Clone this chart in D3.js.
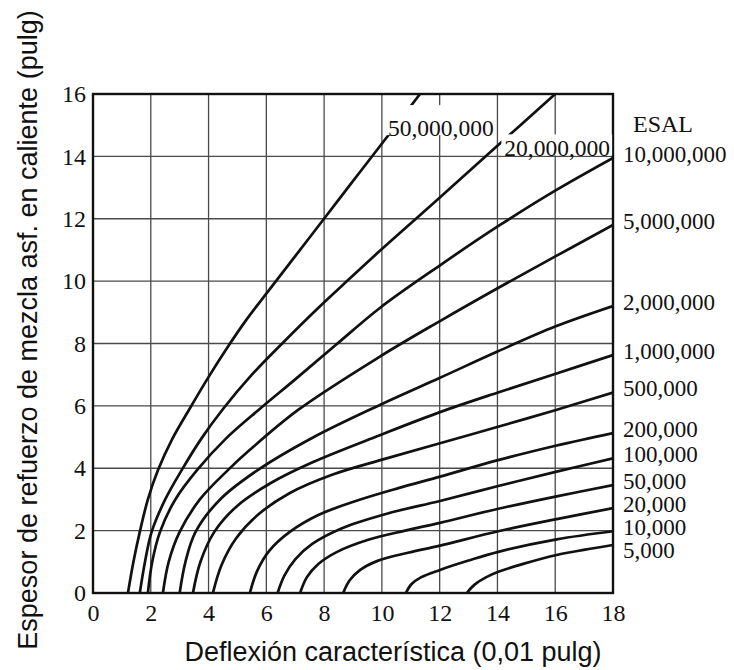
<!DOCTYPE html>
<html>
<head>
<meta charset="utf-8">
<script src="https://cdn.jsdelivr.net/npm/d3@7"></script>
<style>
  body { margin: 0; background: #fff; }
</style>
</head>
<body>
<div class="chart"></div>
<script>
// values: [deflexion (0.01 in), espesor (in)]
var xTicks = [0, 2, 4, 6, 8, 10, 12, 14, 16, 18];
var yTicks = [0, 2, 4, 6, 8, 10, 12, 14, 16];

var curve50M  = [[1.21,0],[1.40,1.0],[1.62,1.96],[1.90,3.0],[2.25,3.94],[2.75,4.95],[3.34,5.9],[3.95,6.85],[4.6,7.8],[5.3,8.75],[6.1,9.72],[7.0,10.8],[8.03,12.04],[9.05,13.27],[10.11,14.54],[11.32,16]];
var curve20M  = [[1.62,0],[1.80,1.0],[2.03,1.96],[2.50,3.0],[3.07,3.94],[3.75,4.95],[4.50,5.90],[5.5,7.0],[6.6,8.05],[7.75,9.1],[8.85,10.05],[9.93,10.97],[11.91,12.6],[13.95,14.3],[16,16]];
var curve10M  = [[1.90,0],[2.05,1.0],[2.32,1.96],[2.85,3.0],[3.6,3.94],[4.6,4.95],[5.77,5.9],[7.0,6.85],[8.4,7.95],[9.93,9.14],[12.0,10.5],[14.09,11.8],[16.0,12.9],[18,13.95]];
var curve5M   = [[2.42,0],[2.62,1.0],[3.0,1.96],[3.7,3.0],[4.67,3.94],[5.43,4.59],[7.1,5.87],[9.93,7.58],[12.01,8.72],[14.02,9.78],[16.02,10.8],[18,11.8]];
var curve2M   = [[3.0,0],[3.2,1.0],[3.55,1.96],[4.4,3.0],[5.7,3.94],[7.6,4.98],[9.93,6.03],[12.01,6.9],[14.02,7.75],[16.02,8.55],[18,9.2]];
var curve1M   = [[3.46,0],[3.72,1.0],[4.2,1.96],[5.0,2.8],[6.2,3.55],[7.62,4.2],[9.93,5.06],[12.01,5.8],[14.02,6.43],[16.02,7.03],[18,7.63]];
var curve500K = [[4.15,0],[4.45,0.9],[4.95,1.75],[5.7,2.5],[6.8,3.2],[8.3,3.8],[10.1,4.3],[12.01,4.8],[14.02,5.33],[16.0,5.86],[18,6.43]];
var curve200K = [[5.43,0],[5.68,0.7],[6.1,1.35],[6.8,1.95],[7.8,2.5],[9.2,2.98],[10.6,3.37],[12.01,3.73],[14.02,4.26],[16.05,4.73],[18,5.13]];
var curve100K = [[6.39,0],[6.62,0.55],[7.0,1.08],[7.6,1.58],[8.6,2.07],[10.2,2.55],[12.01,2.95],[14.03,3.43],[16.05,3.89],[18,4.32]];
var curve50K  = [[7.17,0],[7.4,0.5],[7.8,0.93],[8.45,1.32],[9.5,1.7],[10.8,2.0],[12.01,2.25],[14.03,2.7],[16.05,3.1],[18,3.46]];
var curve20K  = [[8.66,0],[8.88,0.4],[9.25,0.74],[9.85,1.03],[10.9,1.29],[12.01,1.52],[14.03,1.98],[16.05,2.37],[18,2.72]];
var curve10K  = [[10.83,0],[11.02,0.28],[11.35,0.5],[12.01,0.74],[13.0,1.04],[14.03,1.32],[16.05,1.72],[18,1.98]];
var curve5K   = [[12.94,0],[13.2,0.26],[13.6,0.5],[14.03,0.68],[14.95,0.95],[16.05,1.22],[17.03,1.39],[18,1.54]];

var esalLabels = ["50,000,000","20,000,000","10,000,000","5,000,000","2,000,000","1,000,000",
                  "500,000","200,000","100,000","50,000","20,000","10,000","5,000"];
var curves = [curve50M, curve20M, curve10M, curve5M, curve2M, curve1M, curve500K,
              curve200K, curve100K, curve50K, curve20K, curve10K, curve5K];

var serif = "'Liberation Serif','Times New Roman',serif";
var sans = "'Liberation Sans',Arial,sans-serif";

// set the dimensions and margins of the graph
var margin = {top: 94, right: 121, bottom: 77, left: 93},
    width = 734 - margin.left - margin.right,
    height = 670 - margin.top - margin.bottom;

var root = d3.select(".chart")
  .append("svg")
    .attr("width", 734)
    .attr("height", 670);

var svg = root.append("g")
    .attr("transform", "translate(" + margin.left + "," + margin.top + ")");

var x = d3.scaleLinear().domain([0, 18]).range([0, width]);
var y = d3.scaleLinear().domain([0, 16]).range([height, 0]);

// grid
svg.append("g").selectAll("line")
  .data(xTicks.slice(1, -1))
  .enter().append("line")
    .attr("x1", d => x(d)).attr("x2", d => x(d))
    .attr("y1", 0).attr("y2", height)
    .attr("stroke", "#4a4a4a").attr("stroke-width", 1.3);

svg.append("g").selectAll("line")
  .data(yTicks.slice(1, -1))
  .enter().append("line")
    .attr("x1", 0).attr("x2", width)
    .attr("y1", d => y(d)).attr("y2", d => y(d))
    .attr("stroke", "#4a4a4a").attr("stroke-width", 1.3);

// axes (labels only)
var xAx = svg.append("g")
    .attr("transform", "translate(0," + height + ")")
    .call(d3.axisBottom(x).tickValues(xTicks).tickSize(0).tickPadding(11));
var yAx = svg.append("g")
    .call(d3.axisLeft(y).tickValues(yTicks).tickSize(0).tickPadding(7));

[xAx, yAx].forEach(function(a) {
  a.select(".domain").remove();
  a.attr("font-family", serif).attr("font-size", 24);
  a.selectAll("text").attr("fill", "#111");
});

// curves
svg.append("clipPath").attr("id", "plot-clip")
  .append("rect").attr("width", width).attr("height", height);

var line = d3.line()
    .x(d => x(d[0]))
    .y(d => y(d[1]))
    .curve(d3.curveCatmullRom.alpha(0.5));

svg.append("g").attr("clip-path", "url(#plot-clip)")
  .selectAll("path")
  .data(curves)
  .enter().append("path")
    .attr("d", line)
    .attr("fill", "none")
    .attr("stroke", "#111")
    .attr("stroke-width", 2.7)
    .attr("stroke-linecap", "round");

// frame
svg.append("rect")
    .attr("width", width).attr("height", height)
    .attr("fill", "none").attr("stroke", "#111").attr("stroke-width", 2.4);

// labels inside the plot, with a white patch behind
function innerLabel(txt, xv, yv, anchor, padTop) {
  var g = svg.append("g");
  var t = g.append("text")
      .attr("x", x(xv)).attr("y", y(yv))
      .attr("text-anchor", anchor)
      .attr("font-family", serif).attr("font-size", 23.5)
      .attr("fill", "#111")
      .text(txt);
  var b = t.node().getBBox();
  g.insert("rect", "text")
      .attr("x", b.x - 3).attr("y", b.y - padTop)
      .attr("width", b.width + 5)
      .attr("height", (y(yv) - 1) - (b.y - padTop))
      .attr("fill", "#fff");
}
innerLabel(esalLabels[0], 10.21, 14.65, "start", 10);
innerLabel(esalLabels[1], 17.9, 14.0, "end", 1);

// labels on the right, at the curve ends, pushed apart
var prev = -Infinity;
var rightLabels = [];
curves.forEach(function(c, i) {
  var last = c[c.length - 1];
  if (last[0] < 18) return;
  var by = Math.max(y(last[1]) + 4, prev + 23);
  prev = by;
  rightLabels.push({text: esalLabels[i], y: by});
});

svg.selectAll("text.esal")
  .data(rightLabels)
  .enter().append("text")
    .attr("class", "esal")
    .attr("x", width + 10)
    .attr("y", d => d.y)
    .attr("font-family", serif).attr("font-size", 23)
    .attr("fill", "#111")
    .text(d => d.text);

svg.append("text")
    .attr("x", width + 20)
    .attr("y", rightLabels[0].y - 30)
    .attr("font-family", serif).attr("font-size", 24)
    .attr("fill", "#111")
    .text("ESAL");

// axis titles
root.append("text")
    .attr("x", 393).attr("y", 661)
    .attr("text-anchor", "middle")
    .attr("font-family", sans).attr("font-size", 27)
    .attr("fill", "#111")
    .text("Deflexión característica (0,01 pulg)");

root.append("text")
    .attr("transform", "translate(37,330) rotate(-90)")
    .attr("text-anchor", "middle")
    .attr("font-family", sans).attr("font-size", 27)
    .attr("fill", "#111")
    .text("Espesor de refuerzo de mezcla asf. en caliente (pulg)");
</script>
</body>
</html>
